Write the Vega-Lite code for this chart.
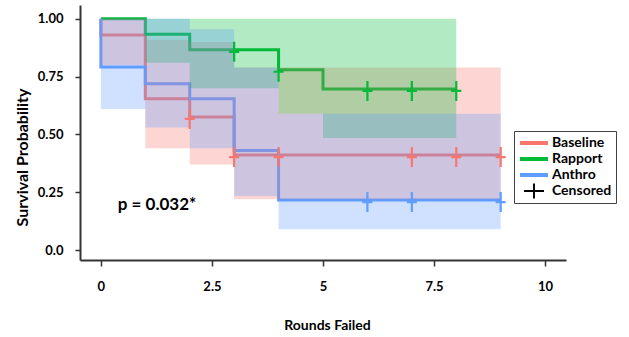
{
  "$schema": "https://vega.github.io/schema/vega-lite/v6.json",
  "width": 486,
  "height": 255,
  "autosize": {"type": "none"},
  "padding": {"left": 80, "top": 5, "right": 63, "bottom": 77},
  "background": "white",
  "config": {
    "view": {"stroke": null},
    "font": "Lato",
    "axis": {
      "grid": false,
      "domainColor": "#333333",
      "domainWidth": 2,
      "tickColor": "#333333",
      "tickWidth": 1.5,
      "labelFont": "Lato",
      "labelFontSize": 13,
      "labelFontWeight": "bold",
      "labelColor": "black",
      "titleFont": "Lato",
      "titleFontWeight": "bold",
      "titleColor": "black"
    }
  },
  "datasets": {
    "curves": [
      {"group": "Baseline", "ord": 1, "t": 0, "s": 1.0},
      {"group": "Baseline", "ord": 2, "t": 0, "s": 0.93},
      {"group": "Baseline", "ord": 3, "t": 1, "s": 0.655},
      {"group": "Baseline", "ord": 4, "t": 2, "s": 0.576},
      {"group": "Baseline", "ord": 5, "t": 3, "s": 0.411},
      {"group": "Baseline", "ord": 6, "t": 9, "s": 0.411},
      {"group": "Rapport", "ord": 1, "t": 0, "s": 1.0},
      {"group": "Rapport", "ord": 2, "t": 1, "s": 0.933},
      {"group": "Rapport", "ord": 3, "t": 2, "s": 0.866},
      {"group": "Rapport", "ord": 4, "t": 4, "s": 0.78},
      {"group": "Rapport", "ord": 5, "t": 5, "s": 0.697},
      {"group": "Rapport", "ord": 6, "t": 8, "s": 0.697},
      {"group": "Anthro", "ord": 1, "t": 0, "s": 1.0},
      {"group": "Anthro", "ord": 2, "t": 0, "s": 0.792},
      {"group": "Anthro", "ord": 3, "t": 1, "s": 0.719},
      {"group": "Anthro", "ord": 4, "t": 2, "s": 0.654},
      {"group": "Anthro", "ord": 5, "t": 3, "s": 0.431},
      {"group": "Anthro", "ord": 6, "t": 4, "s": 0.216},
      {"group": "Anthro", "ord": 7, "t": 9, "s": 0.216}
    ],
    "bands": [
      {"group": "Baseline", "t": 0, "lo": 0.80, "hi": 1.0},
      {"group": "Baseline", "t": 1, "lo": 0.44, "hi": 0.91},
      {"group": "Baseline", "t": 2, "lo": 0.37, "hi": 0.90},
      {"group": "Baseline", "t": 3, "lo": 0.22, "hi": 0.79},
      {"group": "Baseline", "t": 9, "lo": 0.22, "hi": 0.79},
      {"group": "Rapport", "t": 0, "lo": 1.0, "hi": 1.0},
      {"group": "Rapport", "t": 1, "lo": 0.81, "hi": 1.0},
      {"group": "Rapport", "t": 2, "lo": 0.70, "hi": 1.0},
      {"group": "Rapport", "t": 4, "lo": 0.59, "hi": 1.0},
      {"group": "Rapport", "t": 5, "lo": 0.485, "hi": 1.0},
      {"group": "Rapport", "t": 8, "lo": 0.485, "hi": 1.0},
      {"group": "Anthro", "t": 0, "lo": 0.61, "hi": 1.0},
      {"group": "Anthro", "t": 1, "lo": 0.53, "hi": 1.0},
      {"group": "Anthro", "t": 2, "lo": 0.44, "hi": 0.955},
      {"group": "Anthro", "t": 3, "lo": 0.234, "hi": 0.79},
      {"group": "Anthro", "t": 4, "lo": 0.09, "hi": 0.59},
      {"group": "Anthro", "t": 9, "lo": 0.09, "hi": 0.59}
    ],
    "censor": [
      {"group": "Baseline", "t": 2, "s": 0.576},
      {"group": "Baseline", "t": 3, "s": 0.411},
      {"group": "Baseline", "t": 4, "s": 0.411},
      {"group": "Baseline", "t": 7, "s": 0.411},
      {"group": "Baseline", "t": 8, "s": 0.411},
      {"group": "Baseline", "t": 9, "s": 0.411},
      {"group": "Rapport", "t": 3, "s": 0.866},
      {"group": "Rapport", "t": 4, "s": 0.78},
      {"group": "Rapport", "t": 6, "s": 0.697},
      {"group": "Rapport", "t": 7, "s": 0.697},
      {"group": "Rapport", "t": 8, "s": 0.697},
      {"group": "Anthro", "t": 6, "s": 0.216},
      {"group": "Anthro", "t": 7, "s": 0.216},
      {"group": "Anthro", "t": 9, "s": 0.216}
    ],
    "annot": [
      {"t": 0.38, "s": 0.195, "label": "p = 0.032*"}
    ],
    "keys": [
      {"key": "Baseline"},
      {"key": "Rapport"},
      {"key": "Anthro"},
      {"key": "Censored"}
    ]
  },
  "layer": [
    {
      "data": {"name": "keys"},
      "mark": {"type": "point", "filled": true, "opacity": 0},
      "encoding": {
        "color": {
          "field": "key", "type": "nominal",
          "scale": {"domain": ["Baseline", "Rapport", "Anthro", "Censored"], "range": ["#F8766D", "#00BA38", "#619CFF", "#000000"]},
          "legend": {
            "orient": "none", "legendX": 434, "legendY": 126, "title": null,
            "padding": 4, "strokeColor": "#444444", "fillColor": "white",
            "labelFont": "Lato", "labelFontSize": 14, "labelFontWeight": "bold", "labelColor": "black",
            "symbolSize": 256, "symbolOffset": 8, "labelOffset": 10, "rowPadding": 1, "symbolOpacity": 1, "symbolStrokeWidth": 0,
            "encode": {
              "symbols": {"update": {"opacity": {"value": 1}, "fillOpacity": {"value": 1}}},
              "labels": {"update": {"text": {"signal": "datum.label + '\u00a0\u00a0\u00a0'"}}}
            }
          }
        },
        "shape": {
          "field": "key", "type": "nominal",
          "scale": {
            "domain": ["Baseline", "Rapport", "Anthro", "Censored"],
            "range": [
              "M-1.75,-0.25H1.75V0.25H-1.75Z",
              "M-1.75,-0.25H1.75V0.25H-1.75Z",
              "M-1.75,-0.25H1.75V0.25H-1.75Z",
              "M-1.25,-0.12H-0.12V-0.95H0.12V-0.12H1.25V0.12H0.12V0.95H-0.12V0.12H-1.25Z"
            ]
          },
          "legend": {
            "orient": "none", "legendX": 434, "legendY": 126, "title": null,
            "padding": 4, "strokeColor": "#444444", "fillColor": "white",
            "labelFont": "Lato", "labelFontSize": 14, "labelFontWeight": "bold", "labelColor": "black",
            "symbolSize": 256, "symbolOffset": 8, "labelOffset": 10, "rowPadding": 1, "symbolOpacity": 1, "symbolStrokeWidth": 0,
            "encode": {
              "symbols": {"update": {"opacity": {"value": 1}, "fillOpacity": {"value": 1}}},
              "labels": {"update": {"text": {"signal": "datum.label + '\u00a0\u00a0\u00a0'"}}}
            }
          }
        }
      }
    },
    {
      "data": {"name": "curves"},
      "mark": {"type": "line", "interpolate": "step-after", "strokeWidth": 3},
      "encoding": {
        "x": {
          "field": "t", "type": "quantitative",
          "scale": {"domain": [-0.47, 10.47], "nice": false, "zero": false},
          "axis": {
            "title": "Rounds Failed",
            "values": [0, 2.5, 5, 7.5, 10],
            "format": ".1~f",
            "tickSize": 6,
            "labelPadding": 14,
            "titleFontSize": 14,
            "titleX": 247,
            "titleY": 65,
            "titleBaseline": "middle"
          }
        },
        "y": {
          "field": "s", "type": "quantitative",
          "scale": {"domain": [-0.043, 1.06], "nice": false, "zero": false},
          "axis": {
            "title": "Survival Probability",
            "values": [0, 0.25, 0.5, 0.75, 1],
            "labelExpr": "datum.value == 0 ? '0.0' : format(datum.value, '.2f')",
            "tickSize": 5,
            "labelPadding": 12,
            "titleFontSize": 16,
            "titleX": -58,
            "titleY": 152,
            "titleBaseline": "middle"
          }
        },
        "color": {"field": "group", "type": "nominal"},
        "order": {"field": "ord", "type": "quantitative"}
      }
    },
    {
      "data": {"name": "bands"},
      "mark": {"type": "area", "interpolate": "step-after", "opacity": 0.3},
      "encoding": {
        "x": {"field": "t", "type": "quantitative"},
        "y": {"field": "lo", "type": "quantitative"},
        "y2": {"field": "hi"},
        "color": {"field": "group", "type": "nominal"}
      }
    },
    {
      "data": {"name": "censor"},
      "mark": {"type": "point", "shape": "M-0.5,0.2H0.5M0,-0.8V1.2", "size": 400, "strokeWidth": 2.2, "filled": false, "opacity": 1},
      "encoding": {
        "x": {"field": "t", "type": "quantitative"},
        "y": {"field": "s", "type": "quantitative"},
        "color": {"field": "group", "type": "nominal"}
      }
    },
    {
      "data": {"name": "annot"},
      "mark": {"type": "text", "align": "left", "baseline": "middle", "fontSize": 17, "fontWeight": "bold", "font": "Lato", "color": "black"},
      "encoding": {
        "x": {"field": "t", "type": "quantitative"},
        "y": {"field": "s", "type": "quantitative"},
        "text": {"field": "label"}
      }
    }
  ]
}
